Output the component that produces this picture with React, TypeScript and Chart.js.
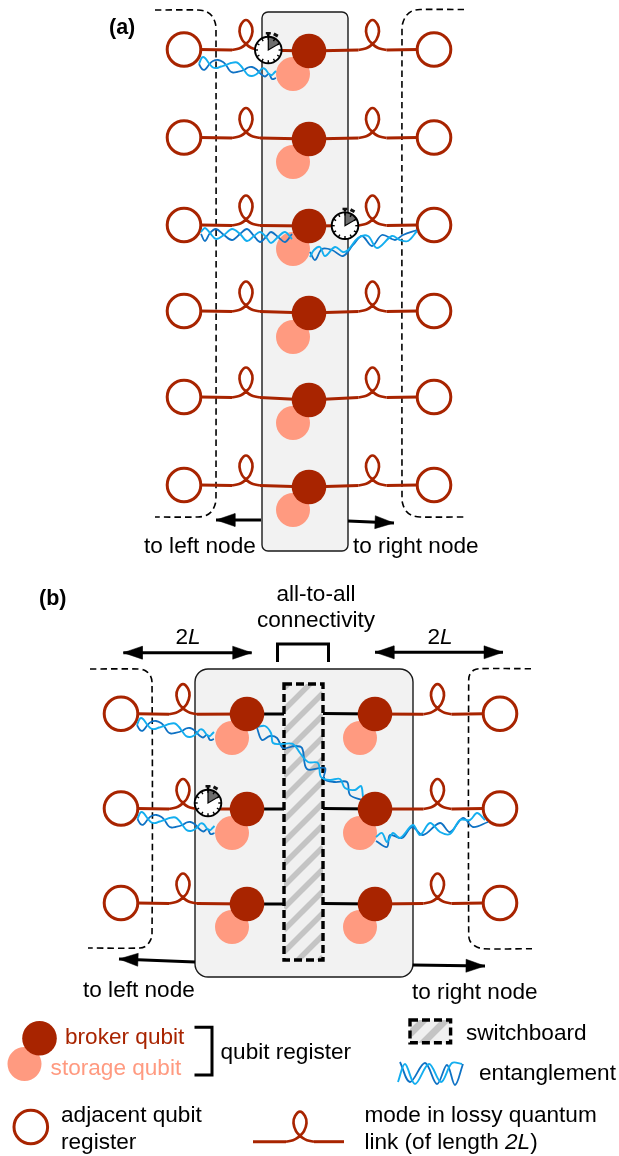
import React, { useEffect, useRef } from "react";
import { Chart, registerables } from "chart.js";

Chart.register(...registerables);

type P = [number, number];

const RED = "#a82400";
const SALMON = "#ff9a80";
const CYAN = "#14aeef";
const BLUE = "#0f72c4";
const FONT = '"Liberation Sans", Arial, sans-serif';

// panel (a)
const aCircleY = [49.5, 137.5, 225, 311, 397, 485];
const aBrokerY = [51, 139, 226, 313, 400, 487];
const aStorageY = [74, 162, 249, 337, 423, 510];
const aBrokerX = 309;
const aStorageX = 293;
const aLeftX = 184;
const aRightX = 434;
const aLoopL = 246;
const aLoopR = 372.5;

// panel (b)
const bCircleY = [713.7, 808.5, 903];
const bBrokerY = [714, 809, 904];
const bStorageY = [738, 833, 927];
const bLeftX = 121;
const bRightX = 500;
const bBrokerLX = 247;
const bBrokerRX = 375;
const bStorageLX = 232;
const bStorageRX = 360;
const bLoopL = 183;
const bLoopR = 437.5;

const loopShape: P[] = [[-14, 0.5], [-7, -1], [-3, -3], [0, -5.5], [4, -10], [6.5, -18], [5, -25], [0, -29.5], [-5, -25], [-6.5, -18], [-4, -10], [0, -5.5], [3, -3], [7, -1], [14, 0.5]];

const helixTplLight: P[] = [[0, 0], [3, -6.5], [6, -6], [10.5, 0], [14, 3.5], [18, 4], [22, 2.5], [27, 1], [32, -1], [38, -1.5], [42, 2], [45, 6], [49, 11], [53, 12], [57, 10.5], [60, 8], [63, 4.5], [66, 5], [70, 10], [73, 11], [75, 9], [77, 7]];
const helixTplDark: P[] = [[0, 0], [3, 5], [6, 5.5], [10.5, 0], [14, -3], [19, -4], [24, -2], [27, 1], [31, 7], [34, 8.5], [38, 8], [45, 6], [49, 3.5], [53, 3], [57, 5], [60, 8], [63, 11], [66, 12.5], [70, 10], [73, 15], [77, 14]];
const helixTplOrigins: P[] = [[199, 64], [137, 725], [137.5, 819]];

const helixFree: { light: P[]; dark: P[] }[] = [
  {
    light: [[201, 232], [205, 228], [210, 233], [216, 239], [224, 235], [232, 229], [240, 234], [247, 241], [254, 236], [260, 232], [266, 237], [271, 243], [278, 237], [285, 232], [292, 239]],
    dark: [[201, 234], [205, 241], [210, 233], [216, 229], [224, 235], [232, 240], [240, 234], [247, 229], [254, 236], [260, 242], [266, 237], [271, 232], [278, 237], [285, 242], [292, 234]],
  },
  {
    light: [[310, 257], [314, 250], [320, 247], [325, 256], [335, 247], [343, 252], [348, 250], [358, 238], [368, 236], [377, 248], [392, 236], [400, 240], [408, 241], [417, 231]],
    dark: [[310, 252], [315, 260], [322, 249], [332, 250], [343, 256], [353, 245], [362, 236], [372, 246], [382, 235], [395, 240], [403, 235], [417, 230]],
  },
  {
    light: [[257, 727], [265, 726], [271, 733], [273, 743], [282, 744], [293, 744], [300, 753], [308, 762], [318, 763], [321, 777], [330, 780], [340, 779], [345, 788], [355, 790], [361, 786], [363, 797]],
    dark: [[257, 728], [262, 740], [270, 736], [277, 738], [283, 748], [295, 746], [302, 748], [307, 769], [325, 768], [324, 779], [335, 782], [347, 782], [350, 795], [362, 800]],
  },
  {
    light: [[376, 837], [382, 833], [387, 842], [393, 833], [400, 838], [413, 825], [420, 835], [430, 823], [440, 832], [450, 834], [460, 820], [470, 820], [477, 813], [485, 820]],
    dark: [[376, 841], [387, 847], [390, 835], [402, 838], [412, 827], [423, 835], [440, 823], [450, 832], [463, 818], [473, 827], [488, 822]],
  },
  {
    light: [[398, 1082], [405, 1064], [415, 1084], [429, 1064], [441, 1082], [452, 1063], [462, 1064]],
    dark: [[400, 1062], [410, 1082], [425, 1063], [437, 1084], [447, 1065], [455, 1085], [463, 1064]],
  },
];

const dashedCurves: P[][] = [
  [[155, 10], [198, 10], [206, 11.5], [212, 16], [215.5, 24], [216, 33], [216, 495], [215.5, 503], [212, 511], [206, 515.5], [198, 517], [155, 517]],
  [[464, 9.5], [420, 9.5], [412, 11], [406, 16], [402.5, 24], [402, 33], [402, 495], [402.5, 503], [406, 511], [412, 515.5], [420, 517], [465, 517]],
  [[90, 669], [138, 669], [145, 670.5], [150, 675], [152, 682], [152, 935], [150, 941], [146, 946], [140, 948], [88, 948]],
  [[531, 668.7], [480, 668.7], [474, 670], [470, 674], [468.7, 680], [468.7, 935], [470, 941], [475, 946], [483, 948.7], [532, 948.7]],
];

const arrowsSingle: [number, number, number, number][] = [
  [261, 520, 216, 520],
  [348, 521, 394, 523],
  [195, 962, 119, 959],
  [412.7, 965, 485, 966],
];
const arrowsDouble: [number, number, number, number][] = [
  [123.3, 652.7, 251.7, 652.7],
  [375, 652.3, 503, 652.3],
];
const brackets: P[][] = [
  [[277.5, 662], [277.5, 644], [328.5, 644], [328.5, 662]],
  [[194.5, 1027.3], [212, 1027.3], [212, 1075], [194.5, 1075]],
];

const stopwatches: P[] = [[268.3, 50], [345, 225.7], [208, 803]];
const stripeStarts = [688, 710, 732, 754, 776, 798, 820, 842, 864, 886, 908, 930, 952, 974, 996];
const legendStripeStarts = [1034, 1056];

type Run = { s: string; italic?: boolean };
type Label = { runs: Run[]; x: number; y: number; color?: string; bold?: boolean; size?: number; align?: "center" };
const labels: Label[] = [
  { runs: [{ s: "(a)" }], x: 109, y: 34, bold: true, size: 21.5 },
  { runs: [{ s: "to left node" }], x: 144, y: 553 },
  { runs: [{ s: "to right node" }], x: 353, y: 553 },
  { runs: [{ s: "(b)" }], x: 39, y: 605, bold: true, size: 21.5 },
  { runs: [{ s: "all-to-all" }], x: 316, y: 600.7, align: "center" },
  { runs: [{ s: "connectivity" }], x: 316, y: 626.7, align: "center" },
  { runs: [{ s: "2" }, { s: "L", italic: true }], x: 188, y: 644, align: "center" },
  { runs: [{ s: "2" }, { s: "L", italic: true }], x: 440, y: 644, align: "center" },
  { runs: [{ s: "to left node" }], x: 83, y: 997 },
  { runs: [{ s: "to right node" }], x: 412, y: 999 },
  { runs: [{ s: "broker qubit" }], x: 65, y: 1043.5, color: RED },
  { runs: [{ s: "storage qubit" }], x: 50.6, y: 1075, color: SALMON },
  { runs: [{ s: "qubit register" }], x: 220.5, y: 1059 },
  { runs: [{ s: "switchboard" }], x: 466, y: 1040 },
  { runs: [{ s: "entanglement" }], x: 479, y: 1080 },
  { runs: [{ s: "adjacent qubit" }], x: 61, y: 1122 },
  { runs: [{ s: "register" }], x: 61, y: 1149 },
  { runs: [{ s: "mode in lossy quantum" }], x: 364.4, y: 1122 },
  { runs: [{ s: "link (of length " }, { s: "2L", italic: true }, { s: ")" }], x: 364.4, y: 1149 },
];

function buildDatasets() {
  const ds: any[] = [];
  const path = (pts: P[], color: string, width: number, tension = 0, extra: any = {}) =>
    ds.push({
      data: pts.map(([x, y]) => ({ x, y })),
      showLine: true,
      pointRadius: 0,
      borderColor: color,
      backgroundColor: color,
      borderWidth: width,
      tension,
      fill: false,
      clip: false,
      ...extra,
    });
  const dots = (pts: P[], r: number, fill: string, border = "transparent", bw = 0) =>
    ds.push({
      data: pts.map(([x, y]) => ({ x, y })),
      showLine: false,
      pointRadius: r,
      pointHoverRadius: r,
      pointBackgroundColor: fill,
      pointBorderColor: border,
      pointBorderWidth: bw,
      clip: false,
    });
  const head = (x0: number, y0: number, x1: number, y1: number) => {
    const d = Math.hypot(x1 - x0, y1 - y0);
    const ux = (x1 - x0) / d;
    const uy = (y1 - y0) / d;
    const bx = x1 - ux * 19;
    const by = y1 - uy * 19;
    path(
      [[x1, y1], [bx - uy * 6.5, by + ux * 6.5], [bx + uy * 6.5, by - ux * 6.5], [x1, y1]],
      "#000",
      0.5,
      0,
      { fill: "shape" }
    );
  };
  const loop = (cx: number, y: number) =>
    path(loopShape.map(([dx, dy]) => [cx + dx, y + dy] as P), RED, 2.7, 0.4);
  const helix = (light: P[], dark: P[]) => {
    path(dark, BLUE, 1.8, 0.35);
    path(light, CYAN, 1.9, 0.35);
  };

  dashedCurves.forEach((c) => path(c, "#000", 1.6, 0.3, { borderDash: [6.5, 4] }));

  bBrokerY.forEach((by) => {
    path([[bBrokerLX, by], [284, by]], "#000", 3);
    path([[323, by - 0.5], [bBrokerRX, by]], "#000", 3);
  });
  brackets.forEach((b) => path(b, "#000", 3, 0, { borderJoinStyle: "miter" }));

  arrowsSingle.forEach(([a, b, c, d]) => {
    path([[a, b], [c, d]], "#000", 3);
    head(a, b, c, d);
  });
  arrowsDouble.forEach(([a, b, c, d]) => {
    path([[a, b], [c, d]], "#000", 3);
    head(a, b, c, d);
    head(c, d, a, b);
  });

  aCircleY.forEach((y, i) => {
    const by = aBrokerY[i];
    path([[aLeftX + 16, y], [aLoopL - 14, y + 0.5]], RED, 3);
    path([[aLoopL + 14, y + 0.5], [aBrokerX, by]], RED, 3);
    path([[aBrokerX, by], [aLoopR - 14, y + 0.5]], RED, 3);
    path([[aLoopR + 14, y + 0.5], [aRightX - 16, y]], RED, 3);
    loop(aLoopL, y);
    loop(aLoopR, y);
  });
  bCircleY.forEach((y, i) => {
    const by = bBrokerY[i];
    path([[bLeftX + 16, y], [bLoopL - 14, y + 0.5]], RED, 3);
    path([[bLoopL + 14, y + 0.5], [bBrokerLX, by]], RED, 3);
    path([[bBrokerRX, by], [bLoopR - 14, y + 0.5]], RED, 3);
    path([[bLoopR + 14, y + 0.5], [bRightX - 16, y]], RED, 3);
    loop(bLoopL, y);
    loop(bLoopR, y);
  });
  // legend link
  path([[253, 1141.7], [286, 1141.7]], RED, 3);
  path([[314, 1141.7], [344, 1141.7]], RED, 3);
  loop(300, 1141.2);

  dots(
    [
      ...aCircleY.flatMap((y) => [[aLeftX, y], [aRightX, y]] as P[]),
      ...bCircleY.flatMap((y) => [[bLeftX, y], [bRightX, y]] as P[]),
      [30.8, 1127],
    ],
    16.8,
    "#fff",
    RED,
    3
  );
  dots(
    [
      ...aStorageY.map((y) => [aStorageX, y] as P),
      ...bStorageY.flatMap((y) => [[bStorageLX, y], [bStorageRX, y]] as P[]),
      [24.5, 1064],
    ],
    17,
    SALMON
  );
  helixTplOrigins.forEach(([ox, oy]) =>
    helix(
      helixTplLight.map(([x, y]) => [x + ox, y + oy] as P),
      helixTplDark.map(([x, y]) => [x + ox, y + oy] as P)
    )
  );
  helixFree.forEach((h) => helix(h.light, h.dark));
  dots(
    [
      ...aBrokerY.map((y) => [aBrokerX, y] as P),
      ...bBrokerY.flatMap((y) => [[bBrokerLX, y], [bBrokerRX, y]] as P[]),
      [39.5, 1038.3],
    ],
    17.3,
    RED
  );
  // first dataset is painted last by Chart.js
  return ds.reverse();
}

const diagram = {
  id: "diagram",
  beforeDatasetsDraw(chart: any) {
    const { ctx, scales } = chart;
    const X = (v: number) => scales.x.getPixelForValue(v);
    const Y = (v: number) => scales.y.getPixelForValue(v);
    const panel = (x0: number, y0: number, x1: number, y1: number, r: number) => {
      ctx.save();
      ctx.beginPath();
      ctx.roundRect(X(x0), Y(y0), X(x1) - X(x0), Y(y1) - Y(y0), r);
      ctx.fillStyle = "#f2f2f2";
      ctx.fill();
      ctx.strokeStyle = "#1a1a1a";
      ctx.lineWidth = 1.4;
      ctx.stroke();
      ctx.restore();
    };
    panel(262, 12, 348, 551, 6);
    panel(195, 669, 413, 977, 13);
    const board = (x0: number, y0: number, x1: number, y1: number, starts: number[], w: number) => {
      ctx.save();
      ctx.beginPath();
      ctx.rect(X(x0), Y(y0), X(x1) - X(x0), Y(y1) - Y(y0));
      ctx.fillStyle = "#f0f0f0";
      ctx.fill();
      ctx.save();
      ctx.clip();
      ctx.strokeStyle = "#c4c4c4";
      ctx.lineWidth = w;
      const h = x1 - x0;
      starts.forEach((s) => {
        ctx.beginPath();
        ctx.moveTo(X(x0), Y(s));
        ctx.lineTo(X(x1), Y(s - h));
        ctx.stroke();
      });
      ctx.restore();
      ctx.beginPath();
      ctx.rect(X(x0), Y(y0), X(x1) - X(x0), Y(y1) - Y(y0));
      ctx.strokeStyle = "#000";
      ctx.lineWidth = 3.4;
      ctx.setLineDash([8, 4]);
      ctx.stroke();
      ctx.restore();
    };
    board(284, 684, 323, 960, stripeStarts, 5.5);
    board(410, 1020, 450.6, 1042.7, legendStripeStarts, 7);
  },
  afterDatasetsDraw(chart: any) {
    const { ctx, scales } = chart;
    const X = (v: number) => scales.x.getPixelForValue(v);
    const Y = (v: number) => scales.y.getPixelForValue(v);
    stopwatches.forEach(([sx, sy]) => {
      const cx = X(sx);
      const cy = Y(sy);
      ctx.save();
      ctx.lineCap = "butt";
      ctx.strokeStyle = "#000";
      // crown and side button
      ctx.lineWidth = 2.5;
      ctx.beginPath();
      ctx.moveTo(cx, cy - 14);
      ctx.lineTo(cx, cy - 16);
      ctx.stroke();
      ctx.fillStyle = "#111";
      ctx.fillRect(cx - 2.5, cy - 18, 5, 2.5);
      ctx.save();
      ctx.translate(cx + 7.5, cy - 15);
      ctx.rotate(0.5);
      ctx.fillRect(-2.3, -1.5, 4.6, 3);
      ctx.restore();
      // face
      ctx.beginPath();
      ctx.arc(cx, cy, 13.3, 0, Math.PI * 2);
      ctx.fillStyle = "#fff";
      ctx.fill();
      // wedge
      ctx.beginPath();
      ctx.moveTo(cx, cy);
      ctx.lineTo(cx, cy - 13);
      ctx.arc(cx, cy, 13, -Math.PI / 2, -Math.PI / 2 + 1.0);
      ctx.closePath();
      ctx.fillStyle = "#6e6e6e";
      ctx.fill();
      // hand
      ctx.lineWidth = 1.2;
      ctx.beginPath();
      ctx.moveTo(cx, cy - 13);
      ctx.lineTo(cx, cy);
      ctx.lineTo(cx + 11, cy - 6.5);
      ctx.stroke();
      // ring
      ctx.lineWidth = 1.9;
      ctx.beginPath();
      ctx.arc(cx, cy, 13.3, 0, Math.PI * 2);
      ctx.stroke();
      // ticks
      ctx.lineWidth = 1.4;
      for (let i = 0; i < 12; i++) {
        const a = (i * Math.PI) / 6;
        ctx.beginPath();
        ctx.moveTo(cx + Math.sin(a) * 13, cy - Math.cos(a) * 13);
        ctx.lineTo(cx + Math.sin(a) * 10.3, cy - Math.cos(a) * 10.3);
        ctx.stroke();
      }
      ctx.restore();
    });

    ctx.save();
    ctx.textBaseline = "alphabetic";
    labels.forEach((l) => {
      const size = l.size ?? 22.6;
      ctx.fillStyle = l.color ?? "#000";
      const fontOf = (r: Run) =>
        `${r.italic ? "italic " : ""}${l.bold ? "bold " : ""}${size}px ${FONT}`;
      let w = 0;
      l.runs.forEach((r) => {
        ctx.font = fontOf(r);
        w += ctx.measureText(r.s).width;
      });
      let x = X(l.x) - (l.align === "center" ? w / 2 : 0);
      l.runs.forEach((r) => {
        ctx.font = fontOf(r);
        ctx.textAlign = "left";
        ctx.fillText(r.s, x, Y(l.y));
        x += ctx.measureText(r.s).width;
      });
    });
    ctx.restore();
  },
};

export default function App() {
  const ref = useRef<HTMLCanvasElement>(null);
  useEffect(() => {
    const chart = new Chart(ref.current as HTMLCanvasElement, {
      type: "scatter",
      data: { datasets: buildDatasets() },
      plugins: [diagram],
      options: {
        animation: false,
        responsive: false,
        events: [],
        layout: { padding: 0, autoPadding: false },
        plugins: { legend: { display: false }, tooltip: { enabled: false } },
        scales: {
          x: { type: "linear", display: false, min: 0, max: 619 },
          y: { type: "linear", display: false, min: 0, max: 1156, reverse: true },
        },
      },
    } as any);
    return () => chart.destroy();
  }, []);
  return (
    <canvas
      ref={ref}
      width={619}
      height={1156}
      style={{ position: "absolute", left: 0, top: 0, width: 619, height: 1156, display: "block" }}
    />
  );
}
